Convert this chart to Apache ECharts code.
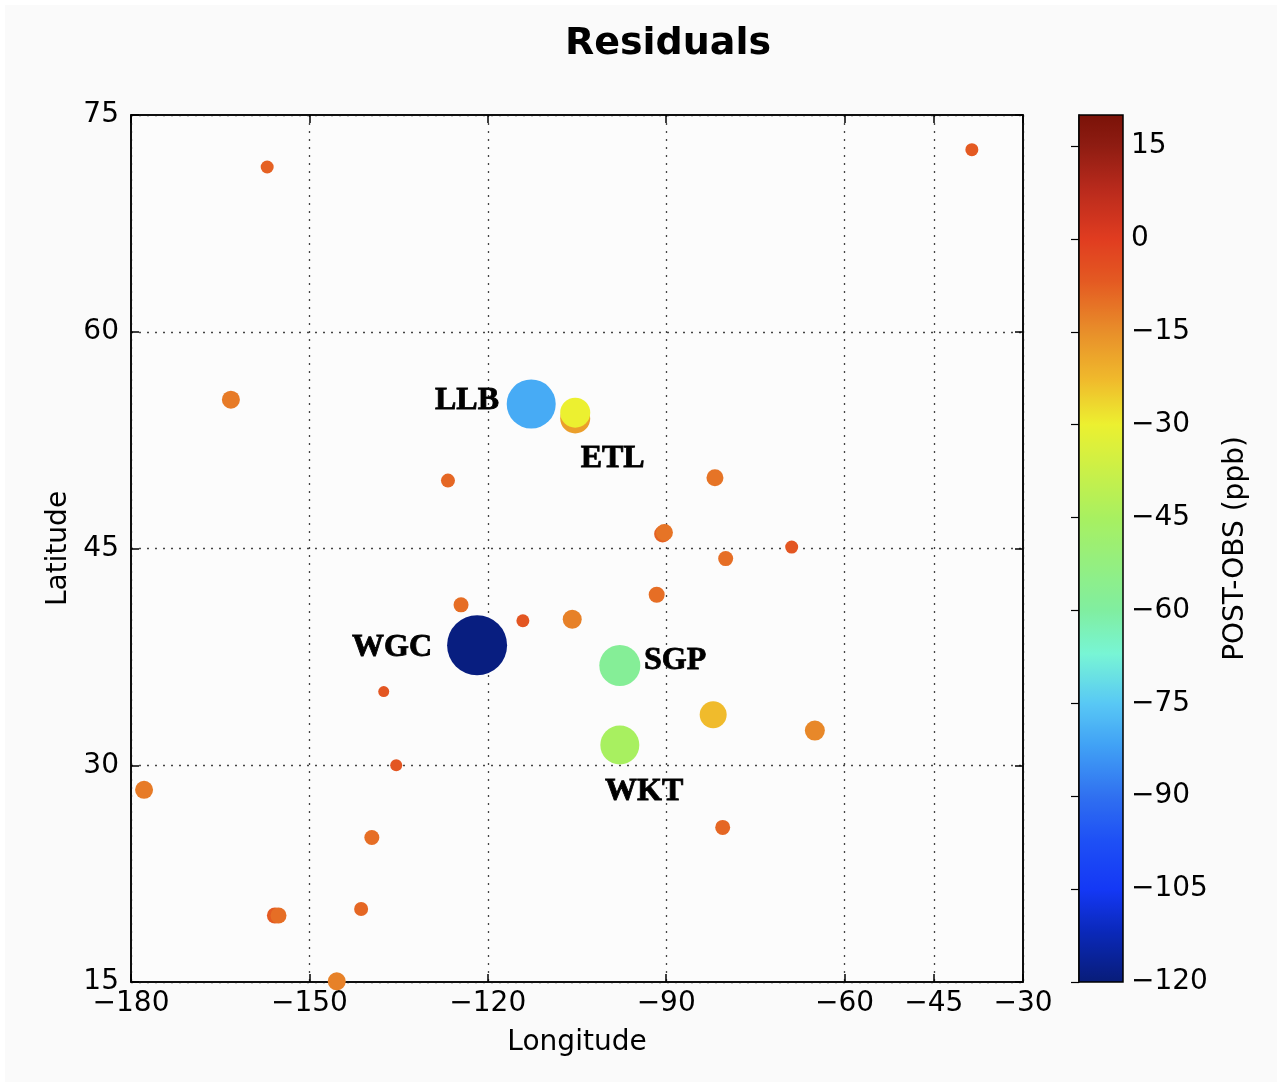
<!DOCTYPE html>
<html><head><meta charset="utf-8">
<script src="https://cdn.jsdelivr.net/npm/echarts@6/dist/echarts.min.js"></script>
<style>html,body{margin:0;padding:0;background:#fff;}#c{position:absolute;left:5px;top:5px;width:1272px;height:1077px;background:#fafafa;}</style>
</head><body><div id="c"></div><script>
// ---- data ----
const lon = [-157.1, -38.6, -163.2, -126.7, -112.7, -105.3, -105.3, -81.8, -90.6, -90.3, -80.0, -68.9, -91.6, -124.5, -114.1, -105.8, -121.8, -97.8, -97.8, -82.1, -65.0, -137.5, -135.4, -177.8, -139.5, -80.5, -155.8, -155.2, -141.3, -145.4];
const lat = [71.4, 72.6, 55.3, 49.7, 55.0, 54.0, 54.4, 49.9, 46.0, 46.1, 44.3, 45.1, 41.8, 41.1, 40.0, 40.1, 38.3, 36.9, 31.4, 33.5, 32.4, 35.1, 30.0, 28.3, 25.0, 25.7, 19.6, 19.6, 20.05, 15.05];
const residual = [-8, -7, -12, -9, -80, -18, -30, -11, -8, -11, -10, -6, -10, -10, -6, -13, -119, -58, -45, -23, -14, -6, -6, -12, -10, -9, -7, -10, -9, -13];
const weight = [13, 13, 18, 14, 49, 30, 30, 17, 17, 17, 15, 13, 16, 15, 13, 19, 60, 41, 39, 27, 20, 11, 12, 18, 15, 15, 16, 16, 14, 18];
const siteNames = ['LLB', 'ETL', 'WGC', 'SGP', 'WKT'];
const siteLon = [-123.5, -99.0, -136.1, -88.5, -93.7];
const siteLat = [55.2, 51.2, 38.1, 37.2, 28.2];
const xTicks = [-180, -150, -120, -90, -60, -45, -30];
const yTicks = [15, 30, 45, 60, 75];
const cbTicks = [-120, -105, -90, -75, -60, -45, -30, -15, 0, 15];
const cbMin = -120, cbMax = 20;

// ---- colour scale as it appears on the reference colour bar (jet-like) ----
const cmapValues = [-120, -112, -105, -97, -90, -82, -75, -67, -60, -45, -30, -23, -15, -7, 0, 8, 15, 20];
const cmapColors = ['#081c78', '#0a28b8', '#1438f5', '#1e50f5', '#3070f0', '#40a0f5', '#58c8f5', '#78f5d5', '#80eea0', '#a8f060', '#ecf030', '#f0bb2c', '#e88e2a', '#e45a22', '#e03c20', '#b82a1c', '#8e1c12', '#7a1208'];

function hex2rgb(h){ return [parseInt(h.substr(1,2),16), parseInt(h.substr(3,2),16), parseInt(h.substr(5,2),16)]; }
function cmap(v){
  v = Math.max(cbMin, Math.min(cbMax, v));
  for (let i=1;i<cmapValues.length;i++){
    if (v <= cmapValues[i]){
      const f = (v - cmapValues[i-1])/(cmapValues[i]-cmapValues[i-1]);
      const a = hex2rgb(cmapColors[i-1]), b = hex2rgb(cmapColors[i]);
      return 'rgb(' + a.map((c,k)=>Math.round(c+(b[k]-c)*f)).join(',') + ')';
    }
  }
  return cmapColors[cmapColors.length-1];
}
const scaleColors = []; for (let v=cbMin; v<=cbMax; v++) scaleColors.push(cmap(v));
const cbStops = []; for (let i=0;i<=140;i++) cbStops.push({offset:i/140, color: cmap(cbMax - i)});

const FONT = 'DejaVu Sans';
const fmt = v => v < 0 ? '\u2212' + Math.abs(v) : String(v);
const tickStyle = {color:'#000', width:1.5};
const gridLine = {show:true, lineStyle:{color:'#444', width:1.3, type:[2,6]}};
const lblStyle = {color:'#000', fontSize:28, fontFamily:FONT};

const chart = echarts.init(document.getElementById('c'), null, {renderer:'canvas'});
chart.setOption({
  animation:false,
  backgroundColor:'#fafafa',
  graphic:[{type:'text', x:663, y:39, silent:true, style:{text:'Residuals', fontSize:38, fontWeight:'bold', fontFamily:FONT, fill:'#000', textAlign:'center', textVerticalAlign:'middle', align:'center', verticalAlign:'middle'}}],
  grid:[
    {left:126, top:110, width:892, height:867, show:true, borderColor:'#000', borderWidth:1.5, backgroundColor:'#fcfcfc'},
    {left:1074, top:110, width:44, height:867}
  ],
  visualMap:{show:false, type:'continuous', min:cbMin, max:cbMax, dimension:2, seriesIndex:0, inRange:{color:scaleColors}},
  xAxis:[
    {gridIndex:0, type:'value', min:-180, max:-30, interval:15, position:'bottom',
     axisLine:{show:true, lineStyle:tickStyle},
     axisTick:{show:true, inside:true, length:8, customValues:xTicks, lineStyle:tickStyle},
     axisLabel:Object.assign({customValues:xTicks, formatter:fmt, margin:8}, lblStyle),
     splitLine:gridLine,
     name:'Longitude', nameLocation:'middle', nameGap:47, nameTextStyle:lblStyle},
    {gridIndex:0, type:'value', min:-180, max:-30, interval:15, position:'top',
     axisLine:{show:true, lineStyle:tickStyle},
     axisTick:{show:true, inside:true, length:8, customValues:xTicks, lineStyle:tickStyle},
     axisLabel:{show:false}, splitLine:{show:false}},
    {gridIndex:1, type:'value', min:0, max:1, show:false}
  ],
  yAxis:[
    {gridIndex:0, type:'value', min:15, max:75, interval:15, position:'left',
     axisLine:{show:true, lineStyle:tickStyle},
     axisTick:{show:true, inside:true, length:8, customValues:yTicks, lineStyle:tickStyle},
     axisLabel:Object.assign({customValues:yTicks, formatter:fmt, margin:12}, lblStyle),
     splitLine:gridLine,
     name:'Latitude', nameLocation:'middle', nameGap:58, nameTextStyle:lblStyle},
    {gridIndex:0, type:'value', min:15, max:75, interval:15, position:'right',
     axisLine:{show:true, lineStyle:tickStyle},
     axisTick:{show:true, inside:true, length:8, customValues:yTicks, lineStyle:tickStyle},
     axisLabel:{show:false}, splitLine:{show:false}},
    {gridIndex:1, type:'value', min:cbMin, max:cbMax, interval:15, position:'right',
     axisLine:{show:true, lineStyle:tickStyle},
     axisTick:{show:true, inside:true, length:8, customValues:cbTicks, lineStyle:{color:'#000', width:1.2}},
     axisLabel:Object.assign({customValues:cbTicks, formatter:fmt, margin:8}, lblStyle),
     splitLine:{show:false},
     name:'POST-OBS (ppb)', nameLocation:'middle', nameGap:99, nameRotate:90, nameTextStyle:lblStyle}
  ],
  series:[
    {type:'scatter', xAxisIndex:0, yAxisIndex:0, silent:true, clip:false,
     data: lon.map((x,i)=>[x, lat[i], residual[i], weight[i]]),
     symbolSize: v => v[3], itemStyle:{opacity:1}},
    {type:'scatter', xAxisIndex:0, yAxisIndex:0, silent:true, symbolSize:0,
     data: siteNames.map((n,i)=>[siteLon[i], siteLat[i], n]),
     label:{show:true, position:'inside', formatter: p => p.data[2], color:'#000', opacity:1, fontSize:32, fontWeight:'bold', fontFamily:'Liberation Serif', textBorderColor:'#000', textBorderWidth:0.8}},
    {type:'custom', xAxisIndex:2, yAxisIndex:2, silent:true, data:[[0, cbMin]],
     renderItem:(params, api)=>{
       const p0 = api.coord([0, cbMax]), p1 = api.coord([1, cbMin]);
       return {type:'rect', shape:{x:p0[0], y:p0[1], width:p1[0]-p0[0], height:p1[1]-p0[1]},
               style:{fill:new echarts.graphic.LinearGradient(0,0,0,1,cbStops), stroke:'#000', lineWidth:1.5}};
     }}
  ]
});
</script></body></html>
